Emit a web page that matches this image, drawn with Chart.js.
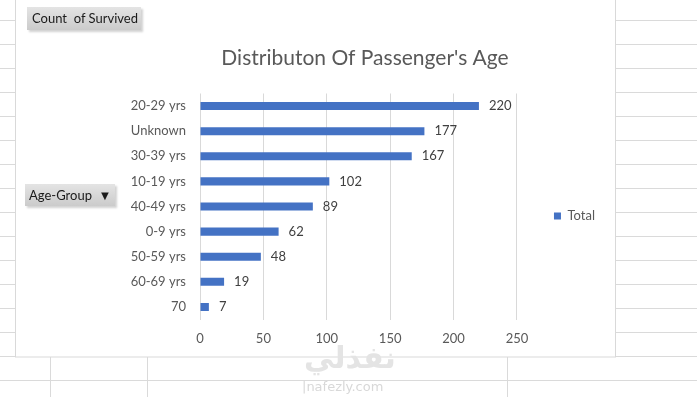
<!DOCTYPE html>
<html>
<head>
<meta charset="utf-8">
<script src="https://cdn.jsdelivr.net/npm/chart.js@4/dist/chart.umd.min.js"></script>
<style>
  html, body { margin: 0; padding: 0; background: #fff; }
  #wrap { position: relative; width: 697px; height: 397px; overflow: hidden; }
  #wrap canvas { position: absolute; left: 0; top: 0; }
  .btn {
    position: absolute;
    font-family: Lato, "Liberation Sans", sans-serif;
    font-size: 13px;
    color: #1a1a1a;
    background: linear-gradient(#e4e4e4, #cbcbcb);
    box-shadow: 2px 2px 2px rgba(0, 0, 0, 0.18);
    box-sizing: border-box;
    line-height: 22px;
    white-space: nowrap;
  }
  .mark { position: absolute; color: #e4e4e4; font-family: "DejaVu Sans", sans-serif; }
</style>
</head>
<body>
<div id="wrap">
  <canvas id="ageChart" width="697" height="397"></canvas>
  <div class="btn" style="left:27px; top:7px; width:114px; height:23px; padding-left:5px;">Count &nbsp;of Survived</div>
  <div class="btn" style="left:25px; top:184px; width:90px; height:22px; padding-left:4px;">Age-Group &nbsp;&#9660;</div>
  <div class="mark" style="left:304px; top:340px; font-size:30px; font-weight:bold;">نفذلي</div>
  <div class="mark" style="left:302px; top:379px; font-size:13px; color:#d8d8d8;">|nafezly.com</div>
</div>
<script>
const ageGroups = ["20-29 yrs", "Unknown", "30-39 yrs", "10-19 yrs", "40-49 yrs", "0-9 yrs", "50-59 yrs", "60-69 yrs", "70"];
const survivedCounts = [220, 177, 167, 102, 89, 62, 48, 19, 7];
const xTicks = [0, 50, 100, 150, 200, 250];

const FONT = "Lato, 'Liberation Sans', sans-serif";
const GREY = "#595959";

// spreadsheet cells + chart box behind the chart
const sheetBackground = {
  id: "sheetBackground",
  beforeDraw(chart) {
    const ctx = chart.ctx;
    ctx.save();
    ctx.fillStyle = "#fff";
    ctx.fillRect(0, 0, chart.width, chart.height);
    ctx.strokeStyle = "#dadada";
    ctx.lineWidth = 1;
    for (let y = 20; y < chart.height; y += 24) {
      ctx.beginPath();
      ctx.moveTo(0, y + 0.5);
      ctx.lineTo(chart.width, y + 0.5);
      ctx.stroke();
    }
    [50, 147, 507].forEach((x) => {
      ctx.beginPath();
      ctx.moveTo(x + 0.5, 0);
      ctx.lineTo(x + 0.5, chart.height);
      ctx.stroke();
    });
    ctx.fillStyle = "#fff";
    ctx.fillRect(15, 0, 600, 357);
    ctx.strokeStyle = "#d9d9d9";
    ctx.strokeRect(15.5, -1, 600, 358);
    ctx.restore();
  },
};

// value labels at the end of each bar
const barValues = {
  id: "barValues",
  afterDatasetsDraw(chart) {
    const ctx = chart.ctx;
    ctx.save();
    ctx.font = "13px " + FONT;
    ctx.fillStyle = "#404040";
    ctx.textBaseline = "middle";
    chart.getDatasetMeta(0).data.forEach((bar, i) => {
      ctx.fillText(survivedCounts[i], bar.x + 10, bar.y);
    });
    ctx.restore();
  },
};

new Chart(document.getElementById("ageChart"), {
  type: "bar",
  plugins: [sheetBackground, barValues],
  data: {
    labels: ageGroups,
    datasets: [
      {
        label: "Total",
        data: survivedCounts,
        backgroundColor: "#4472c4",
        barPercentage: 0.4,
        categoryPercentage: 0.8,
      },
    ],
  },
  options: {
    responsive: false,
    animation: false,
    indexAxis: "y",
    layout: { padding: { left: 125, right: 92, top: 46, bottom: 48.5 } },
    plugins: {
      title: {
        display: true,
        text: "Distributon Of Passenger's Age",
        color: GREY,
        font: { family: FONT, size: 21, weight: "normal", lineHeight: 1.2 },
        padding: { top: 0, bottom: 22.3 },
      },
      legend: {
        position: "right",
        title: { display: true, text: "", padding: 11.5 },
        labels: {
          boxWidth: 7,
          boxHeight: 7,
          padding: 37,
          color: GREY,
          font: { family: FONT, size: 13 },
        },
      },
      tooltip: { enabled: false },
    },
    scales: {
      x: {
        min: 0,
        max: 250,
        afterBuildTicks: (scale) => {
          scale.ticks = xTicks.map((v) => ({ value: v }));
        },
        afterFit: (scale) => {
          scale.height = 29;
        },
        grid: { color: "#d9d9d9", drawTicks: false },
        border: { display: false },
        ticks: { padding: 12, color: GREY, font: { family: FONT, size: 13 } },
      },
      y: {
        afterFit: (scale) => {
          scale.width = 75;
        },
        grid: { display: false, drawTicks: false },
        border: { display: false },
        ticks: { padding: 14, color: GREY, font: { family: FONT, size: 13 } },
      },
    },
  },
});
</script>
</body>
</html>
